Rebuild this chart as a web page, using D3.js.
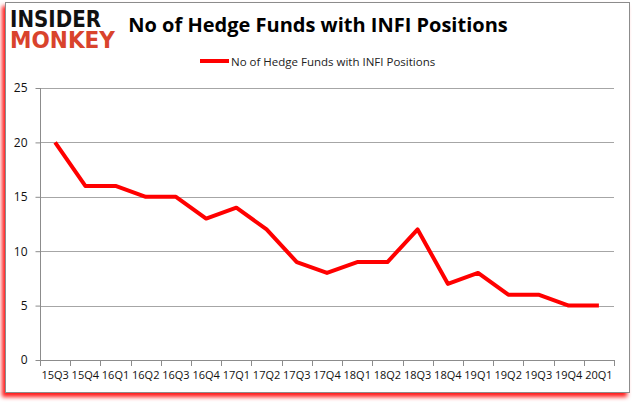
<!DOCTYPE html>
<html><head><meta charset="utf-8">
<script src="https://cdn.jsdelivr.net/npm/d3@7"></script>
<style>body{margin:0;background:#fff}svg{display:block}</style>
</head><body>
<svg id="c" width="635" height="405"></svg>
<script>
const categories = ["15Q3","15Q4","16Q1","16Q2","16Q3","16Q4","17Q1","17Q2","17Q3","17Q4","18Q1","18Q2","18Q3","18Q4","19Q1","19Q2","19Q3","19Q4","20Q1"];
const values = [20,16,16,15,15,13,14,12,9,8,9,9,12,7,8,6,6,5,5];
const yTicks = [0,5,10,15,20,25];
const title = "No of Hedge Funds with INFI Positions";
const seriesName = "No of Hedge Funds with INFI Positions";

const svg = d3.select("#c");
const font = "'Open Sans', 'Noto Sans', sans-serif";

// frame with red shadow
const defs = svg.append("defs");
const f = defs.append("filter").attr("id","sh").attr("x","-5%").attr("y","-5%").attr("width","110%").attr("height","112%");
f.append("feDropShadow").attr("dx",-3).attr("dy",4).attr("stdDeviation",2).attr("flood-color","#ff0000").attr("flood-opacity",0.9);
svg.append("rect").attr("x",5.5).attr("y",2.5).attr("width",624).attr("height",390)
  .attr("fill","#fff").attr("stroke","#8c8c8c").attr("stroke-width",1).attr("filter","url(#sh)");

// logo (single text element, two lines)
const logo = svg.append("text").attr("font-family","'DejaVu Sans', sans-serif").attr("font-weight","bold").attr("font-size",23);
logo.append("tspan").attr("x",10).attr("y",27).text("INSIDER").attr("fill","#111")
  .attr("textLength",91).attr("lengthAdjust","spacingAndGlyphs");
logo.append("tspan").attr("x",10).attr("y",48).text("MONKEY").attr("fill","#d9432c")
  .attr("textLength",105).attr("lengthAdjust","spacingAndGlyphs");

// title
svg.append("text").attr("x",318).attr("y",32).attr("text-anchor","middle").text(title)
  .attr("font-family",font).attr("font-weight","bold").attr("font-size",20).attr("fill","#000");

// legend
svg.append("line").attr("x1",200).attr("x2",229).attr("y1",61).attr("y2",61)
  .attr("stroke","#ff0000").attr("stroke-width",4);
svg.append("text").attr("x",231).attr("y",65.5).text(seriesName)
  .attr("font-family",font).attr("font-size",11.5).attr("fill","#222");

const x = d3.scaleBand().domain(categories).range([40,614]);
const y = d3.scaleLinear().domain([0,25]).range([360,88]);

// gridlines
svg.append("g").selectAll("line").data(yTicks.filter(d=>d>0)).join("line")
  .attr("x1",40).attr("x2",614).attr("y1",d=>Math.round(y(d))+0.5).attr("y2",d=>Math.round(y(d))+0.5)
  .attr("stroke","#a6a6a6").attr("stroke-width",1);

// y axis
const ya = svg.append("g").attr("transform","translate(40.5,0)")
  .call(d3.axisLeft(y).tickValues(yTicks).tickSize(5).tickPadding(8));
ya.select(".domain").attr("stroke","#8c8c8c").attr("d","M0,88V360.5");
ya.selectAll(".tick line").attr("stroke","#8c8c8c");
ya.selectAll("text").attr("font-family",font).attr("font-size",12).attr("fill","#111");

// x axis
const xa = svg.append("g").attr("transform","translate(0,360.5)")
  .call(d3.axisBottom(x).tickSize(0).tickPadding(11));
xa.select(".domain").attr("stroke","#8c8c8c").attr("d","M40,0H614");
xa.selectAll("text").attr("font-family",font).attr("font-size",11).attr("fill","#111");
svg.append("g").selectAll("line").data(categories.concat(["end"])).join("line")
  .attr("x1",(d,i)=>Math.round(40+i*x.step())+0.5).attr("x2",(d,i)=>Math.round(40+i*x.step())+0.5)
  .attr("y1",360).attr("y2",366).attr("stroke","#8c8c8c");

// line
const line = d3.line().x((d,i)=>x(categories[i])+x.bandwidth()/2).y(d=>y(d));
svg.append("path").datum(values).attr("d",line).attr("fill","none")
  .attr("stroke","#ff0000").attr("stroke-width",4).attr("stroke-linejoin","round");
</script>
</body></html>
